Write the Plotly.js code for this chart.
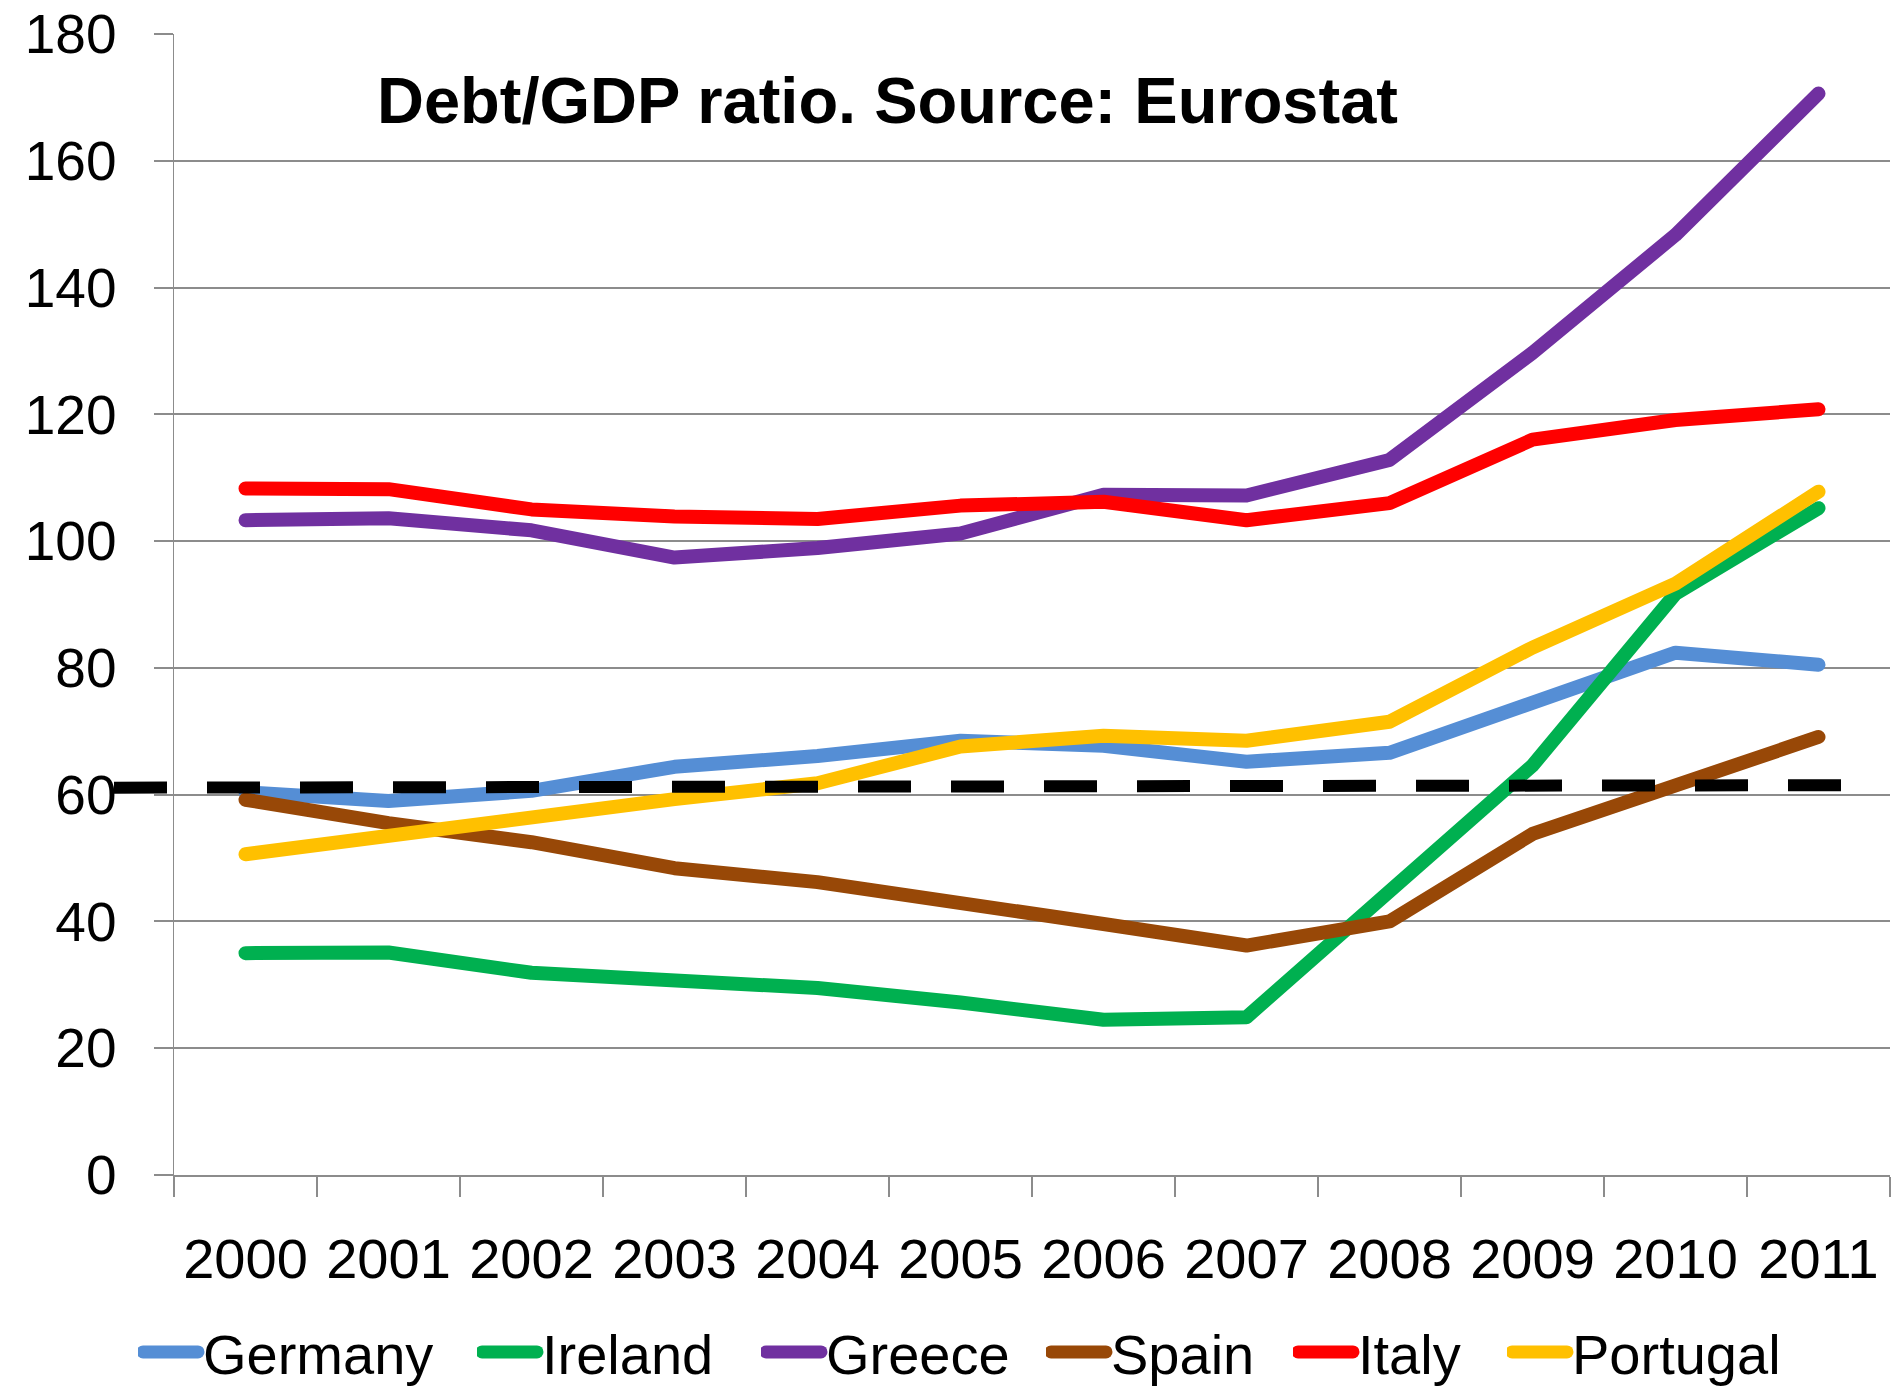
<!DOCTYPE html>
<html>
<head>
<meta charset="utf-8">
<script src="https://cdn.plot.ly/plotly-3.0.1.min.js"></script>
<style>
  html, body { margin: 0; padding: 0; background: #fff; }
  #chart { width: 1895px; height: 1390px; }
  .scatterlayer .js-line, .legendlines path { stroke-linecap: round; stroke-linejoin: round; }
  .legendlines path { stroke-width: 13px !important; }
</style>
</head>
<body>
<div id="chart"></div>
<script>
// ---- Data ----
const years = ["2000","2001","2002","2003","2004","2005","2006","2007","2008","2009","2010","2011"];
const germany  = [60.4, 59.0, 60.6, 64.4, 66.1, 68.5, 67.7, 65.2, 66.6, 74.4, 82.4, 80.5];
const ireland  = [35.0, 35.1, 31.9, 30.8, 29.5, 27.2, 24.5, 24.9, 44.6, 64.6, 91.7, 105.2];
const greece   = [103.3, 103.6, 101.7, 97.4, 98.9, 101.2, 107.3, 107.2, 112.8, 129.7, 148.3, 170.6];
const spain    = [59.2, 55.5, 52.5, 48.4, 46.2, 43.1, 39.6, 36.2, 40.0, 53.8, 61.4, 69.1];
const italy    = [108.3, 108.2, 105.0, 103.9, 103.5, 105.6, 106.2, 103.3, 106.0, 116.0, 119.1, 120.8];
const portugal = [50.6, 53.6, 56.8, 59.3, 61.8, 67.6, 69.3, 68.5, 71.5, 83.2, 93.3, 107.8];
const seriesNames  = ["Germany", "Ireland", "Greece", "Spain", "Italy", "Portugal"];
const seriesValues = [germany, ireland, greece, spain, italy, portugal];
const seriesColors = ["#558ED5", "#00B050", "#7030A0", "#984807", "#FF0000", "#FFC000"];
const thresholdStart = 61.1;   // dashed reference line, left end
const thresholdEnd   = 61.5;   // dashed reference line, right end
const yTicks = [0, 20, 40, 60, 80, 100, 120, 140, 160, 180];
const chartTitle = "Debt/GDP ratio. Source: Eurostat";

const FONT = "'Liberation Sans', Arial, 'DejaVu Sans', sans-serif";
const GRID = "#8C8C8C";

const W = 1895, H = 1390;
const L = 174, R = 1890, T = 34, B = 1175;

// legend entry left positions (px, layout only)
const legendLeft = [138, 477, 761, 1046, 1293, 1507];
const legendIds = ["legend", "legend2", "legend3", "legend4", "legend5", "legend6"];

const traces = seriesNames.map((name, i) => ({
  type: "scatter",
  mode: "lines",
  name: name,
  x: years,
  y: seriesValues[i],
  line: { color: seriesColors[i], width: 14 },
  legend: legendIds[i],
  hoverinfo: "x+y+name"
}));

const layout = {
  width: W, height: H,
  margin: { l: L, r: W - R, t: T, b: H - B, pad: 0 },
  paper_bgcolor: "#ffffff",
  plot_bgcolor: "#ffffff",
  font: { family: FONT, color: "#000000", size: 56 },
  showlegend: true,
  title: {
    text: "<b>" + chartTitle + "</b>",
    font: { family: FONT, size: 65, color: "#000000" },
    xref: "container", yref: "container",
    x: 377 / W, xanchor: "left",
    y: 1 - 100 / H, yanchor: "middle"
  },
  xaxis: {
    type: "category",
    categoryorder: "array",
    categoryarray: years,
    range: [-0.5, years.length - 0.5],
    tickson: "boundaries",
    ticks: "outside",
    ticklen: 20,
    tickwidth: 1.5,
    tickcolor: GRID,
    showgrid: false,
    showline: true,
    linecolor: GRID,
    linewidth: 2,
    zeroline: false,
    tickfont: { family: FONT, size: 56, color: "#000000" },
    ticklabelstandoff: 34,
    fixedrange: true
  },
  yaxis: {
    range: [0, 180],
    tickmode: "array",
    tickvals: yTicks,
    ticktext: yTicks.map(String),
    showgrid: true,
    gridcolor: GRID,
    gridwidth: 2,
    zeroline: false,
    showline: true,
    linecolor: GRID,
    linewidth: 1.5,
    ticks: "outside",
    ticklen: 19,
    tickwidth: 2,
    tickcolor: GRID,
    tickfont: { family: FONT, size: 55, color: "#000000" },
    ticklabelstandoff: 26,
    fixedrange: true
  },
  shapes: [{
    type: "line",
    xref: "paper", yref: "y",
    x0: (114 - L) / (R - L), x1: (1842 - L) / (R - L),
    y0: thresholdStart, y1: thresholdEnd,
    line: { color: "#000000", width: 12, dash: "53px,40px" },
    layer: "above"
  }]
};

legendIds.forEach((id, i) => {
  layout[id] = {
    orientation: "h",
    xref: "container", yref: "container",
    x: legendLeft[i] / W, xanchor: "left",
    y: 1 - 1352 / H, yanchor: "middle",
    font: { family: FONT, size: 56, color: "#000000" },
    itemwidth: 55,
    bgcolor: "rgba(0,0,0,0)",
    borderwidth: 0
  };
});

Plotly.newPlot("chart", traces, layout, { displayModeBar: false, staticPlot: true });
</script>
</body>
</html>
